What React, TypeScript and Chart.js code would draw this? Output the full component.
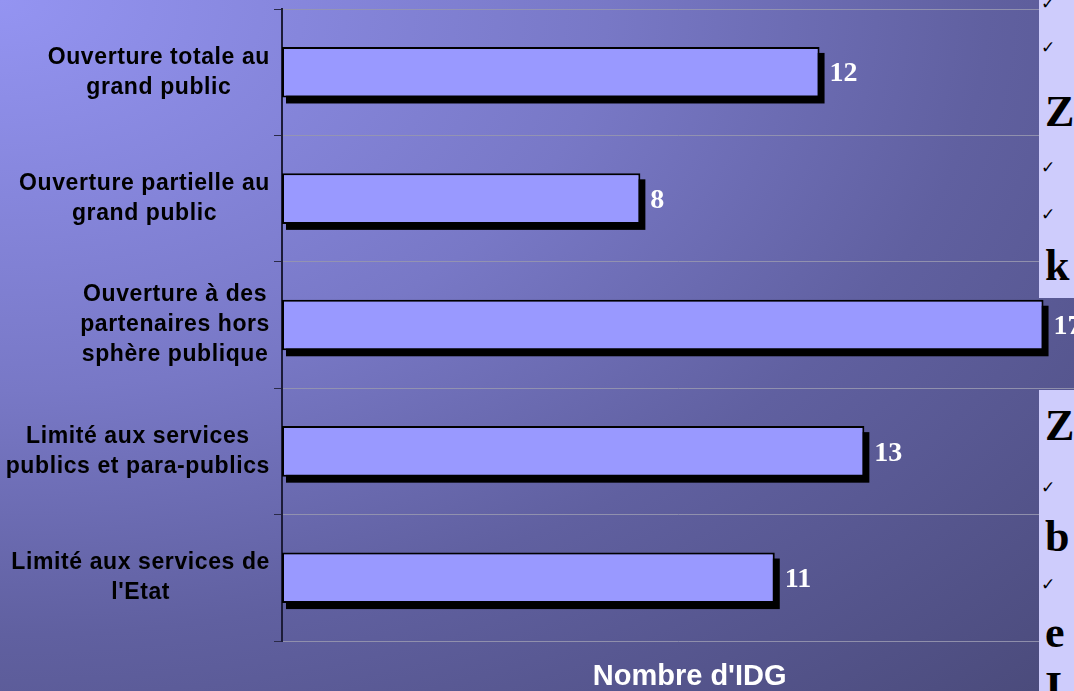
import React, { useEffect, useRef } from "react";
import { Chart, registerables } from "chart.js";

Chart.register(...registerables);

// ---- data ----
const categoryLines: string[][] = [
  ["Ouverture totale au", "grand public"],
  ["Ouverture partielle au", "grand public"],
  ["Ouverture à des", "partenaires hors", "sphère publique"],
  ["Limité aux services", "publics et para-publics"],
  ["Limité aux services de", "l'Etat"],
];
const idgCounts: number[] = [12, 8, 17, 13, 11];
const axisTitle = "Nombre d'IDG";
const xAxisMax = 17.68;

// side panel (partially visible slide text)
const panelTop: { t: string; y: number; big: boolean }[] = [
  { t: "✓", y: -8, big: false },
  { t: "✓", y: 36, big: false },
  { t: "Z", y: 88, big: true },
  { t: "✓", y: 156, big: false },
  { t: "✓", y: 203, big: false },
  { t: "k", y: 242, big: true },
];
const panelBottom: { t: string; y: number; big: boolean }[] = [
  { t: "Z", y: 402, big: true },
  { t: "✓", y: 476, big: false },
  { t: "b", y: 513, big: true },
  { t: "✓", y: 573, big: false },
  { t: "e", y: 609, big: true },
  { t: "I", y: 664, big: true },
];

const shadowPlugin = {
  id: "barShadow",
  beforeDatasetsDraw(chart: any) {
    const ctx = chart.ctx;
    const meta = chart.getDatasetMeta(0);
    ctx.save();
    ctx.fillStyle = "#000000";
    meta.data.forEach((bar: any) => {
      const { x, y, base, height } = bar.getProps(["x", "y", "base", "height"], true);
      ctx.fillRect(base + 4, y - height / 2 + 6, x - base + 1, height);
    });
    ctx.restore();
  },
};

const valueLabelPlugin = {
  id: "valueLabels",
  afterDatasetsDraw(chart: any) {
    const ctx = chart.ctx;
    const meta = chart.getDatasetMeta(0);
    const data = chart.data.datasets[0].data;
    ctx.save();
    ctx.font = 'bold 28px "Liberation Serif", "Times New Roman", serif';
    ctx.fillStyle = "#ffffff";
    ctx.textAlign = "left";
    ctx.textBaseline = "middle";
    meta.data.forEach((bar: any, i: number) => {
      const { x, y } = bar.getProps(["x", "y"], true);
      ctx.fillText(String(data[i]), x + 10, y + 2);
    });
    ctx.restore();
  },
};

const categoryLabelPlugin = {
  id: "categoryLabels",
  afterDraw(chart: any) {
    const ctx = chart.ctx;
    const yScale = chart.scales.y;
    const xScale = chart.scales.x;
    const right = yScale.right - 12;
    const lh = 30;
    ctx.save();
    ctx.font = 'bold 23px "Liberation Sans", Arial, sans-serif';
    (ctx as any).letterSpacing = "0.6px";
    ctx.fillStyle = "#000000";
    ctx.textAlign = "center";
    ctx.textBaseline = "middle";
    categoryLines.forEach((lines, i) => {
      const cy = yScale.getPixelForValue(i);
      const maxW = Math.max(...lines.map((l) => ctx.measureText(l).width));
      const cx = right - maxW / 2;
      const y0 = cy - ((lines.length - 1) * lh) / 2;
      lines.forEach((l, k) => ctx.fillText(l, cx, y0 + k * lh));
    });
    // x axis title
    (ctx as any).letterSpacing = "0px";
    ctx.font = 'bold 29px "Liberation Sans", Arial, sans-serif';
    ctx.fillStyle = "#ffffff";
    ctx.fillText(axisTitle, xScale.getPixelForValue(9.1), chart.chartArea.bottom + 36);
    ctx.restore();
  },
};

export default function App() {
  const ref = useRef<HTMLCanvasElement | null>(null);

  useEffect(() => {
    if (!ref.current) return;
    const chart = new Chart(ref.current, {
      type: "bar",
      data: {
        labels: categoryLines.map((l) => l.join(" ")),
        datasets: [
          {
            data: idgCounts,
            backgroundColor: "#9999ff",
            borderColor: "#000000",
            borderWidth: 2,
            borderSkipped: false,
            barPercentage: 0.4,
            categoryPercentage: 1,
          },
        ],
      },
      options: {
        indexAxis: "y",
        animation: false,
        responsive: false,
        maintainAspectRatio: false,
        layout: { padding: { left: 274, top: 9, right: 0, bottom: 50 } },
        plugins: { legend: { display: false }, tooltip: { enabled: false } },
        scales: {
          x: {
            min: 0,
            max: xAxisMax,
            ticks: { display: false },
            grid: { display: false, drawTicks: false },
            border: { display: false },
            title: { display: false, text: axisTitle },
          },
          y: {
            ticks: { display: false },
            grid: {
              display: true,
              offset: true,
              color: "rgba(150,150,175,0.9)",
              tickColor: "#2a2a48",
              tickLength: 8,
              lineWidth: 1,
            },
            border: { display: true, color: "#1c1c38", width: 2 },
          },
        },
      },
      plugins: [shadowPlugin, valueLabelPlugin, categoryLabelPlugin],
    });
    return () => chart.destroy();
  }, []);

  const itemStyle = (big: boolean, y: number): React.CSSProperties => ({
    position: "absolute",
    left: big ? 6 : 2,
    top: y,
    fontFamily: big ? '"Liberation Serif", "Times New Roman", serif' : '"DejaVu Sans", sans-serif',
    fontWeight: big ? "bold" : "normal",
    fontSize: big ? 44 : 17,
    lineHeight: big ? "48px" : "22px",
    color: "#000000",
    whiteSpace: "nowrap",
  });

  return (
    <div
      style={{
        position: "fixed",
        left: 0,
        top: 0,
        width: 1074,
        height: 691,
        overflow: "hidden",
        background:
          "radial-gradient(ellipse farthest-corner at 0 0, rgb(148,148,242) 0%, rgb(120,120,198) 40%, rgb(96,96,160) 65%, rgb(74,74,122) 100%)",
      }}
    >
      <canvas ref={ref} width={1074} height={691} style={{ position: "absolute", left: 0, top: 0, display: "block" }} />
      <div style={{ position: "absolute", left: 1039, top: 0, width: 40, height: 298, background: "#ceccfc", overflow: "hidden" }}>
        {panelTop.map((p, i) => (
          <span key={i} style={itemStyle(p.big, p.y)}>{p.t}</span>
        ))}
      </div>
      <div style={{ position: "absolute", left: 1039, top: 390, width: 40, height: 301, background: "#ceccfc", overflow: "hidden" }}>
        {panelBottom.map((p, i) => (
          <span key={i} style={itemStyle(p.big, p.y - 390)}>{p.t}</span>
        ))}
      </div>
    </div>
  );
}
